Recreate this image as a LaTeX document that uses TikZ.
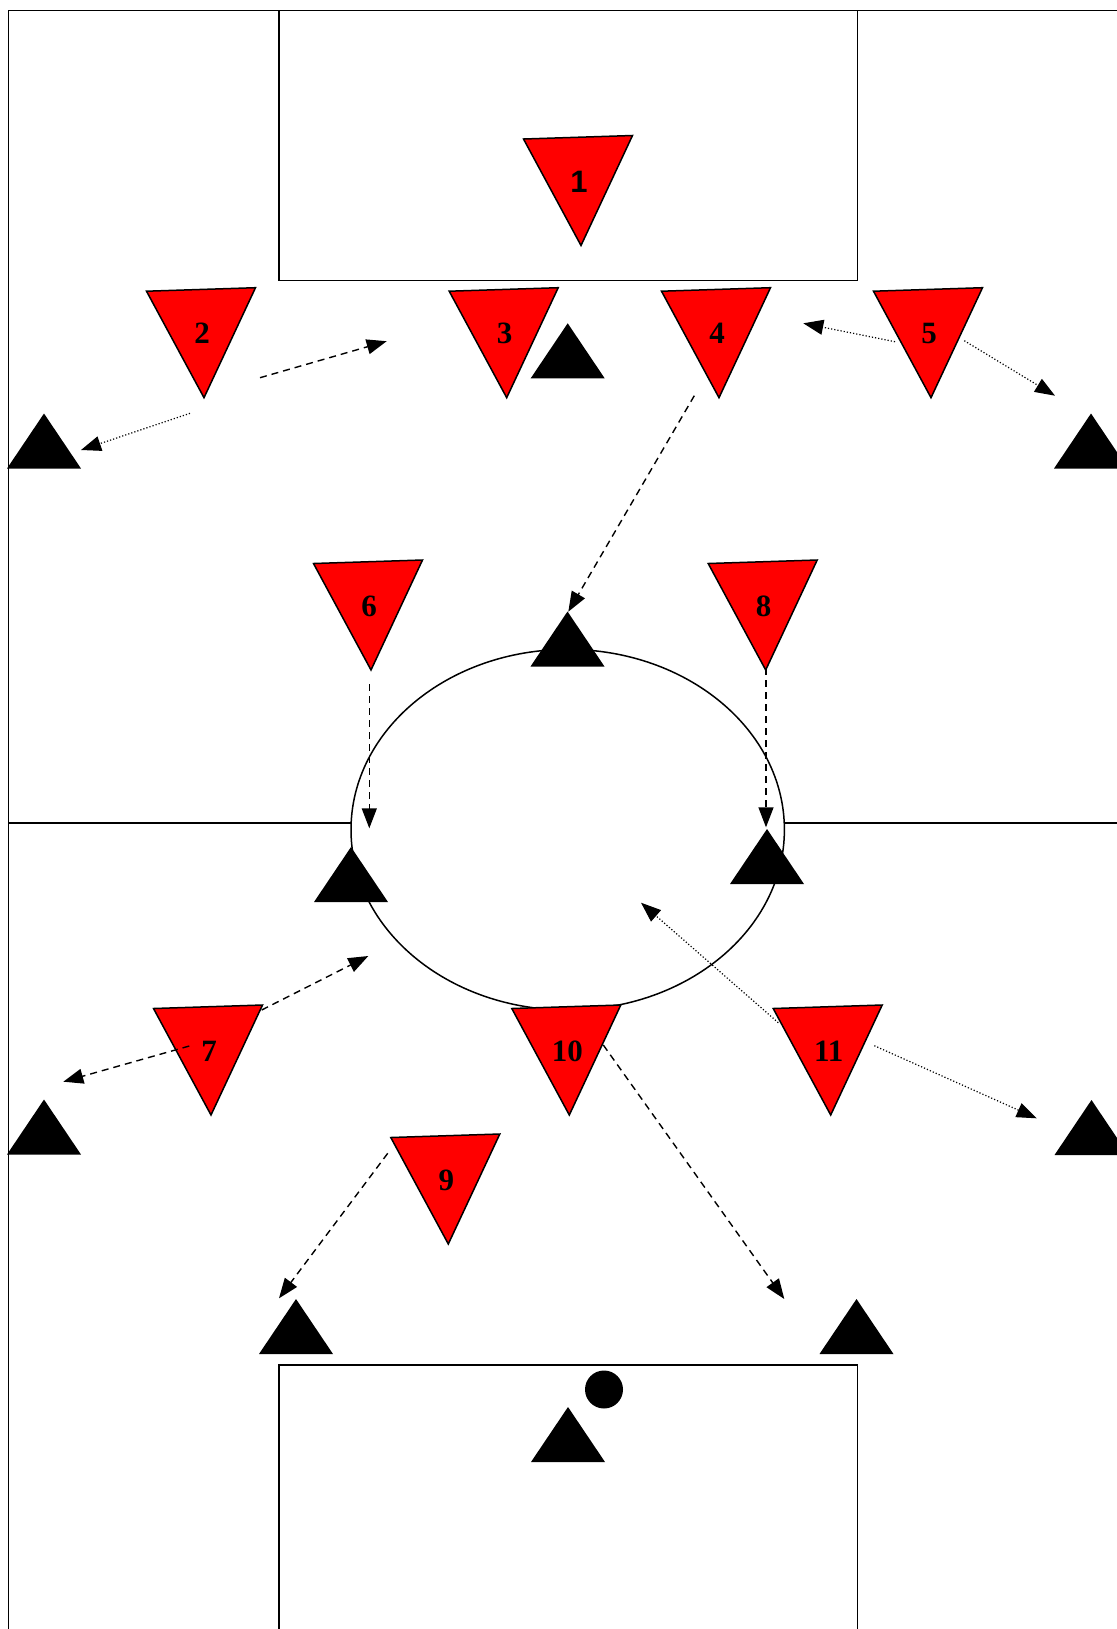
\documentclass[tikz,border=0pt]{standalone}
\usepackage{fontspec}
\setmainfont{Liberation Serif}
\newfontfamily\numsans{Liberation Sans}
\usetikzlibrary{arrows.meta}
\definecolor{shirt}{HTML}{FF0000}
\tikzset{mate/.style={draw=black,fill=shirt,line width=0.75pt},rival/.style={fill=black},
 num/.style={font=\fontsize{15.5}{16}\selectfont,inner sep=0pt},
 dasharr/.style={-{Triangle[length=10pt,width=7.5pt]},line width=0.7pt,dash pattern=on 3.5pt off 2.5pt},
 dotarr/.style={-{Triangle[length=10pt,width=7.5pt]},line width=0.6pt,dash pattern=on 0.6pt off 1pt}}
\begin{document}
\begin{tikzpicture}[x=0.5pt,y=-0.5pt,line width=0.75pt]
\path[use as bounding box,clip] (0,0) rectangle (1117,1629);
\draw (8.3,1650) -- (8.3,10.4) -- (1130,10.4);
\draw (8.3,823) -- (1130,823);
\draw (279,10.4) rectangle (857.3,280.7);
\draw (279,1650) -- (279,1365) -- (857.3,1365) -- (857.3,1650);
\draw[fill=white] (567.7,829.7) ellipse [x radius=216.7,y radius=180.3];
\foreach \n/\x/\y/\f in {1/581/245.5/\numsans,2/204/397.7/\rmfamily,3/506.7/397.7/\rmfamily,4/719/397.7/\rmfamily,
 5/931/397.7/\rmfamily,6/371/670/\rmfamily,8/765.7/670/\rmfamily,7/211/1115/\rmfamily,10/569.3/1115/\rmfamily,
 11/830.7/1115/\rmfamily,9/448.3/1244/\rmfamily}{
 \coordinate (t\n) at (\x,\y);
 \filldraw[mate] (t\n) -- ++(-57.5,-106.5) -- ++(109,-3.5) -- cycle;
 \node[num] (p\n) at ([shift={(-2,-64)}]t\n) {\f\bfseries\n};
}
\foreach \n/\x/\y in {a/567.7/323.3,b/44/413.5,c/1091/413.5,d/567.5/611.5,e/351/847,f/767/829,
 g/44/1099.5,h/1091.5/1100,i/296/1299,j/856.5/1299,k/568/1407}{
 \coordinate (o\n) at (\x,\y);
 \fill[rival] (o\n) -- ++(37,55) -- ++(-74,0) -- cycle;
}
\node[circle,fill=black,minimum size=19pt,inner sep=0pt] (ball) at (604,1389.5) {};
\foreach \k/\x/\y/\u/\v in {1/260/377.7/386.7/341.2,3/694.3/395.7/568.3/611.7,6/369.3/684/369.3/828.3,
 7/766/668.3/766/827.3,8/261.7/1010/368.3/956,9/189.3/1046/63.3/1081.7,12/603.3/1045/784.3/1299,
 13/387.7/1153.3/279/1298.3}{
 \coordinate (s\k) at (\x,\y);
 \coordinate (e\k) at (\u,\v);
 \draw[dasharr] (s\k) -- (e\k);
}
\foreach \k/\x/\y/\u/\v in {2/190/413.3/81/450,4/895/341.7/803.3/323.3,5/964.3/340.7/1055/395.7,
 10/778.3/1022.7/641/902.7,11/874.3/1045.7/1036.7/1118.3}{
 \coordinate (s\k) at (\x,\y);
 \coordinate (e\k) at (\u,\v);
 \draw[dotarr] (s\k) -- (e\k);
}
\end{tikzpicture}
\end{document}
